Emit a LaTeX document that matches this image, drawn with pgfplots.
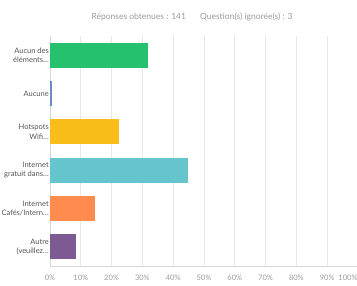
\documentclass[border=0pt]{standalone}
\usepackage{pgfplots}
\pgfplotsset{compat=1.18}
\usepackage{fontspec}
\setmainfont{Lato}
\definecolor{cgreen}{HTML}{25C16F}
\definecolor{cblue}{HTML}{6C8BC7}
\definecolor{cyellow}{HTML}{F8BD19}
\definecolor{cteal}{HTML}{66C5CC}
\definecolor{corange}{HTML}{FF8B4F}
\definecolor{cpurple}{HTML}{7D5A94}
\definecolor{cgrid}{HTML}{E8E8E8}
\definecolor{caxis}{HTML}{D6D6D6}
\definecolor{ctick}{HTML}{9A9A9A}
\definecolor{clab}{HTML}{555555}
\newcommand{\el}{.\kern0.2pt.\kern0.2pt.}
\begin{document}
\begin{tikzpicture}
\path[use as bounding box] (0,0) rectangle (357pt,285pt);
\node[font=\fontsize{8.5}{10}\selectfont, text=ctick] at (192pt,268pt) {Réponses obtenues : 141\hspace{14pt}Question(s) ignorée(s) : 3};
\begin{axis}[
  at={(50pt,19pt)}, anchor=south west,
  scale only axis, width=308pt, height=230pt,
  xmin=0, xmax=100, ymin=-0.5, ymax=5.5, y dir=reverse,
  xtick={0,10,20,30,40,50,60,70,80,90},
  xticklabel={\pgfmathprintnumber{\tick}\%},
  extra x ticks={100},
  extra x tick style={xticklabel style={xshift=-10pt}},
  /pgf/number format/assume math mode=true,
  xticklabel style={font=\fontsize{7.5}{9}\selectfont, text=ctick, yshift=-6pt},
  ytick={0,1,2,3,4,5},
  yticklabels={{Aucun des\\éléments\el},{Aucune},{Hotspots\\Wifi\el},{Internet\\gratuit dans\el},{Internet\\Cafés/Intern\el},{Autre\\(veuillez\el}},
  yticklabel style={font=\fontsize{7.5}{9.5}\selectfont, text=clab, align=right, inner xsep=1pt},
  major tick length=0pt,
  xmajorgrids, grid style={cgrid, line width=0.6pt},
  axis x line*=bottom, axis y line*=left,
  axis line style={caxis, line width=0.6pt, -},
  xbar, bar width=25pt, bar shift=0pt,
  every axis plot/.append style={draw=none},
  clip=false,
]
\addplot[fill=cgreen] coordinates {(31.8,0)};
\addplot[fill=cblue] coordinates {(0.6,1)};
\addplot[fill=cyellow] coordinates {(22.4,2)};
\addplot[fill=cteal] coordinates {(44.8,3)};
\addplot[fill=corange] coordinates {(14.6,4)};
\addplot[fill=cpurple] coordinates {(8.4,5)};
\end{axis}
\end{tikzpicture}
\end{document}
